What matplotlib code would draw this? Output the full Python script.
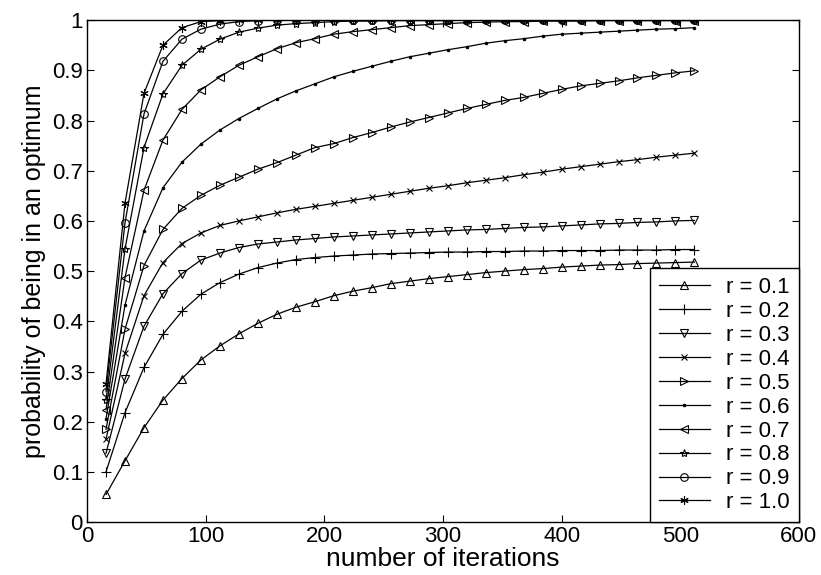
import matplotlib
matplotlib.use("Agg")
import matplotlib.pyplot as plt

# iterations (every 16 up to 512)
iters = list(range(16, 513, 16))

r_labels = ["r = 0.1", "r = 0.2", "r = 0.3", "r = 0.4", "r = 0.5",
            "r = 0.6", "r = 0.7", "r = 0.8", "r = 0.9", "r = 1.0"]
markers = ["^", "+", "v", "x", ">", ".", "<", "*", "o", (6, 2, 0)]

p01 = [0.055, 0.122, 0.188, 0.243, 0.286, 0.323, 0.351, 0.375, 0.396, 0.414,
       0.428, 0.439, 0.451, 0.460, 0.467, 0.475, 0.480, 0.485, 0.489, 0.493,
       0.497, 0.500, 0.503, 0.505, 0.508, 0.510, 0.512, 0.513, 0.515, 0.516,
       0.517, 0.518]
p02 = [0.100, 0.218, 0.308, 0.374, 0.420, 0.454, 0.477, 0.494, 0.507, 0.516,
       0.523, 0.527, 0.530, 0.532, 0.534, 0.535, 0.536, 0.537, 0.538, 0.538,
       0.539, 0.539, 0.540, 0.540, 0.541, 0.541, 0.541, 0.542, 0.542, 0.542,
       0.543, 0.543]
p03 = [0.137, 0.285, 0.390, 0.455, 0.495, 0.522, 0.536, 0.547, 0.554, 0.558,
       0.562, 0.565, 0.568, 0.570, 0.572, 0.574, 0.576, 0.578, 0.580, 0.582,
       0.583, 0.585, 0.587, 0.588, 0.590, 0.592, 0.594, 0.595, 0.597, 0.598,
       0.600, 0.601]
p04 = [0.165, 0.336, 0.451, 0.517, 0.555, 0.576, 0.591, 0.600, 0.608, 0.616,
       0.623, 0.629, 0.635, 0.641, 0.647, 0.653, 0.659, 0.665, 0.670, 0.676,
       0.681, 0.686, 0.692, 0.697, 0.703, 0.708, 0.713, 0.718, 0.722, 0.727,
       0.731, 0.735]
p05 = [0.185, 0.384, 0.511, 0.583, 0.625, 0.651, 0.671, 0.687, 0.703, 0.716,
       0.731, 0.746, 0.754, 0.766, 0.776, 0.787, 0.797, 0.806, 0.815, 0.824,
       0.832, 0.840, 0.846, 0.854, 0.862, 0.869, 0.874, 0.879, 0.885, 0.890,
       0.895, 0.899]
p06 = [0.206, 0.432, 0.580, 0.666, 0.717, 0.753, 0.781, 0.804, 0.824, 0.843,
       0.859, 0.873, 0.887, 0.898, 0.908, 0.918, 0.927, 0.934, 0.941, 0.947,
       0.954, 0.959, 0.963, 0.968, 0.972, 0.974, 0.976, 0.978, 0.980, 0.982,
       0.983, 0.985]
p07 = [0.224, 0.487, 0.661, 0.761, 0.822, 0.861, 0.887, 0.910, 0.927, 0.943,
       0.955, 0.963, 0.972, 0.977, 0.981, 0.985, 0.989, 0.991, 0.993, 0.995,
       0.996, 0.997, 0.997, 0.998, 0.998, 0.998, 0.999, 0.999, 0.999, 0.999,
       0.999, 0.999]
p08 = [0.243, 0.544, 0.746, 0.853, 0.910, 0.942, 0.962, 0.976, 0.984, 0.990,
       0.993, 0.995, 0.997, 0.998, 0.998, 0.999, 0.999, 0.999, 0.999, 1.0,
       1.0, 1.0, 1.0, 1.0, 1.0, 1.0, 1.0, 1.0, 1.0, 1.0, 1.0, 1.0]
p09 = [0.260, 0.596, 0.813, 0.918, 0.962, 0.982, 0.992, 0.997, 0.999, 1.0,
       1.0, 1.0, 1.0, 1.0, 1.0, 1.0, 1.0, 1.0, 1.0, 1.0, 1.0, 1.0, 1.0, 1.0,
       1.0, 1.0, 1.0, 1.0, 1.0, 1.0, 1.0, 1.0]
p10 = [0.275, 0.635, 0.854, 0.950, 0.985, 0.997, 0.999, 1.0, 1.0, 1.0,
       1.0, 1.0, 1.0, 1.0, 1.0, 1.0, 1.0, 1.0, 1.0, 1.0, 1.0, 1.0, 1.0, 1.0,
       1.0, 1.0, 1.0, 1.0, 1.0, 1.0, 1.0, 1.0]

series = [p01, p02, p03, p04, p05, p06, p07, p08, p09, p10]

plt.rcParams['font.family'] = ['Liberation Sans', 'DejaVu Sans']

fig = plt.figure(figsize=(8.21, 5.75), dpi=100)
ax = fig.add_axes([0.106, 0.092, 0.867, 0.873])

sizes = [5.5, 6.5, 5.5, 4, 5.5, 3.5, 5.5, 6, 5.5, 6]
for vals, m, ms, lab in zip(series, markers, sizes, r_labels):
    ax.plot(iters, vals, color="black", linewidth=0.9, marker=m,
            markersize=ms, markerfacecolor="none" if m != "." else "black",
            markeredgecolor="black", markeredgewidth=0.8, label=lab)

ax.set_xlim(0, 600)
ax.set_ylim(0, 1)
ax.set_xticks(range(0, 601, 100))
ax.set_yticks([i / 10 for i in range(11)])
ax.set_yticklabels(["0", "0.1", "0.2", "0.3", "0.4", "0.5", "0.6", "0.7", "0.8", "0.9", "1"])
ax.tick_params(direction="in", top=True, right=True, length=5, labelsize=16, pad=3)
for s in ax.spines.values():
    s.set_linewidth(1.0)

ax.set_xlabel("number of iterations", fontsize=19, labelpad=0)
ax.set_ylabel("probability of being in an optimum", fontsize=18, labelpad=4)

leg = ax.legend(loc="lower right", borderaxespad=0, fontsize=16, fancybox=False,
                edgecolor="black", framealpha=1, handlelength=2.3, handletextpad=0.75,
                labelspacing=0.13, borderpad=0.4)
leg.get_frame().set_linewidth(1.0)

fig.savefig("out.png", dpi=100)
